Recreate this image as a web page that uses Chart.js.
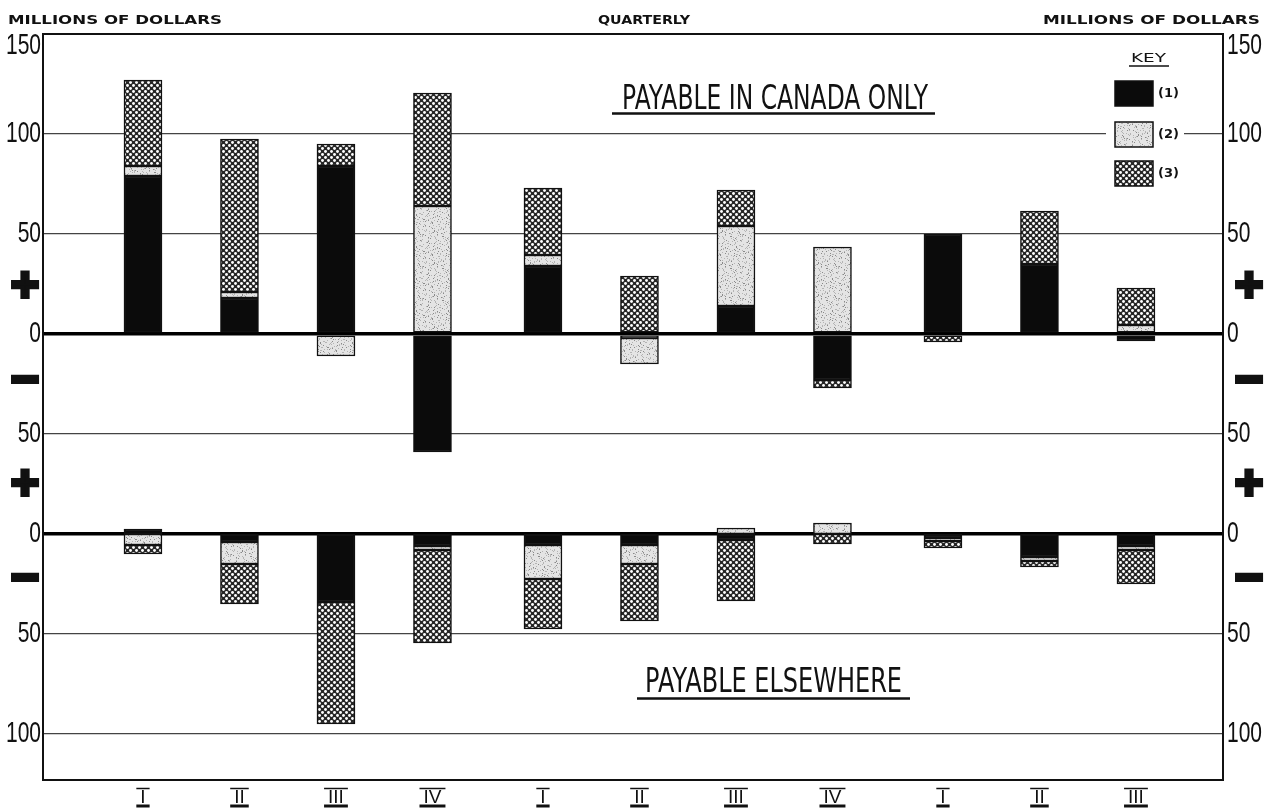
<!DOCTYPE html>
<html>
<head>
<meta charset="utf-8">
<style>
html,body{margin:0;padding:0;background:#fff;}
#wrap{width:1267px;height:808px;position:relative;}
</style>
<script src="https://cdn.jsdelivr.net/npm/chart.js@4.4.1/dist/chart.umd.min.js"></script>
</head>
<body>
<div id="wrap"><canvas id="c"></canvas></div>
<script>
// ---------------- DATA ----------------
const quarters = ['I','II','III','IV','I','II','III','IV','I','II','III'];
const seriesNames = ['(1)','(2)','(3)'];

// Payable in Canada only (millions of dollars)
const canada1 = [79, 18, 84, -59, 34, -2, 14, -23, 50, 35, -3.5];
const canada2 = [5, 3, -11, 64, 5.5, -13, 40, 43.5, 0, 0, 4.5];
const canada3 = [43, 76.5, 11, 56.5, 33.5, 29, 18, -4, -4, 26.5, 18.5];

// Payable elsewhere (millions of dollars)
const elsewhere1 = [2.5, -4, -34, -6, -5.5, -5.5, -3, 0, -2, -11.5, -6];
const elsewhere2 = [-5.5, -11, 0, -2, -17, -9.5, 3, 5.5, -1.5, -2, -2];
const elsewhere3 = [-4.5, -20, -61, -46.5, -25, -28.5, -30.5, -5, -3.5, -3, -17];

// Axis tick labels (two panels share one axis; lower panel is shifted by panelShift)
const panelShift = -100;
const yGridValues = [150, 100, 50, 0, -50, -100, -150, -200];
const yTickLabels = ['150', '100', '50', '0', '50', '0', '50', '100'];
const signValues = [23, -24, -76, -123];
const signLabels = ['+', '\u2212', '+', '\u2212'];

const headerLeft = 'MILLIONS OF DOLLARS';
const headerCenter = 'QUARTERLY';
const headerRight = 'MILLIONS OF DOLLARS';
const panelTitleTop = 'PAYABLE IN CANADA ONLY';
const panelTitleBottom = 'PAYABLE ELSEWHERE';
const keyTitle = 'KEY';

// ---------------- LAYOUT HELPERS ----------------
const yearGap = 0.145;
function xpos(i){ return i + yearGap * Math.floor(i / 4); }

// ---------------- PATTERNS ----------------
function makeStipple(){
  const c = document.createElement('canvas'); c.width = 32; c.height = 32;
  const g = c.getContext('2d');
  g.fillStyle = '#e4e4e4'; g.fillRect(0,0,32,32);
  for (let k = 0; k < 170; k++){
    const x = (k * 37 + (k * k) % 7) % 32;
    const y = (k * 71 + (k * k * 3) % 13) % 32;
    g.fillStyle = (k % 3 === 0) ? '#8a8a8a' : '#b4b4b4';
    g.fillRect(x, y, 1, 1);
  }
  return c;
}
function makeHatch(){
  const c = document.createElement('canvas'); c.width = 6; c.height = 6;
  const g = c.getContext('2d');
  g.fillStyle = '#262626'; g.fillRect(0,0,6,6);
  g.fillStyle = '#ffffff';
  [[1.5,1.5],[4.5,4.5]].forEach(p => { g.beginPath(); g.arc(p[0], p[1], 1.45, 0, Math.PI*2); g.fill(); });
  return c;
}
const tmpCtx = document.createElement('canvas').getContext('2d');
const fills = [
  '#0b0b0b',
  tmpCtx.createPattern(makeStipple(), 'repeat'),
  tmpCtx.createPattern(makeHatch(), 'repeat')
];

// ---------------- FLOATING STACKS ----------------
function buildStacks(seriesList, offset){
  const out = seriesList.map(() => []);
  quarters.forEach((q, i) => {
    let pos = offset, neg = offset;
    seriesList.forEach((s, k) => {
      const v = s[i];
      if (!v) return;
      if (v > 0){ out[k].push({x: xpos(i), y: [pos, pos + v]}); pos += v; }
      else { out[k].push({x: xpos(i), y: [neg, neg + v]}); neg += v; }
    });
  });
  return out;
}
const topStacks = buildStacks([canada1, canada2, canada3], 0);
const botStacks = buildStacks([elsewhere1, elsewhere2, elsewhere3], panelShift);

const datasets = [];
[topStacks, botStacks].forEach((stacks, p) => {
  stacks.forEach((data, k) => {
    datasets.push({
      label: seriesNames[k] + (p === 0 ? ' ' + panelTitleTop : ' ' + panelTitleBottom),
      data: data,
      backgroundColor: fills[k],
      borderColor: '#111',
      borderWidth: 1.5,
      borderSkipped: false,
      barThickness: 38,
      grouped: false,
      xAxisID: 'x',
      yAxisID: 'y'
    });
  });
});

// ---------------- DRAW HELPERS ----------------
function fitText(ctx, text, x, baseline, width){
  const w = ctx.measureText(text).width;
  ctx.save();
  ctx.translate(x, baseline);
  ctx.scale(width / w, 1);
  ctx.textAlign = 'left';
  ctx.textBaseline = 'alphabetic';
  ctx.fillText(text, 0, 0);
  ctx.restore();
}
function scaledText(ctx, text, x, y, align, sx){
  ctx.save();
  ctx.translate(x, y);
  ctx.scale(sx, 1);
  ctx.textAlign = align;
  ctx.fillText(text, 0, 0);
  ctx.restore();
}

const decor = {
  id: 'decor',
  beforeDatasetsDraw(chart){
    const ctx = chart.ctx;
    ctx.save();
    ctx.fillStyle = '#fff';
    ctx.fillRect(1106, 118, 78, 32);
    ctx.restore();
  },
  afterDraw(chart){
    const ctx = chart.ctx;
    const a = chart.chartArea;
    const ys = chart.scales.y;
    const xs = chart.scales.x;
    ctx.save();
    ctx.fillStyle = '#111';
    ctx.strokeStyle = '#111';

    // plot frame
    ctx.lineWidth = 2;
    ctx.strokeRect(a.left, a.top, a.right - a.left, a.bottom - a.top);

    // y tick labels, both sides
    ctx.font = '30px "Liberation Sans", Arial, sans-serif';
    ctx.textBaseline = 'middle';
    yGridValues.forEach((v, i) => {
      let py = ys.getPixelForValue(v);
      if (py < a.top + 12) py = a.top + 12;
      scaledText(ctx, yTickLabels[i], a.left - 2, py, 'right', 0.7);
      scaledText(ctx, yTickLabels[i], a.right + 4, py, 'left', 0.7);
    });

    // + / − signs
    ctx.font = 'bold 48px "Liberation Sans", Arial, sans-serif';
    ctx.textAlign = 'center';
    ctx.textBaseline = 'middle';
    ctx.lineWidth = 4;
    ctx.lineJoin = 'miter';
    signValues.forEach((v, i) => {
      const py = ys.getPixelForValue(v);
      [25, 1249].forEach(px => {
        ctx.fillText(signLabels[i], px, py);
        ctx.strokeText(signLabels[i], px, py);
      });
    });

    // headers
    ctx.font = 'bold 13px "DejaVu Sans", sans-serif';
    fitText(ctx, headerLeft, 8, 24, 214);
    fitText(ctx, headerCenter, 598, 24, 92);
    fitText(ctx, headerRight, 1043, 24, 217);

    // panel titles
    ctx.font = '33px "DejaVu Sans", sans-serif';
    fitText(ctx, panelTitleTop, 622, 109, 306);
    fitText(ctx, panelTitleBottom, 645, 692, 257);
    ctx.lineWidth = 2.5;
    ctx.beginPath();
    ctx.moveTo(612, 113.5); ctx.lineTo(935, 113.5);
    ctx.moveTo(637, 698.5); ctx.lineTo(910, 698.5);
    ctx.stroke();

    // key
    ctx.font = '13px "DejaVu Sans", sans-serif';
    fitText(ctx, keyTitle, 1131, 62, 35);
    ctx.lineWidth = 1.5;
    ctx.beginPath(); ctx.moveTo(1129, 66); ctx.lineTo(1169, 66); ctx.stroke();
    const boxTops = [81, 122, 161];
    ctx.font = 'bold 13px "DejaVu Sans", sans-serif';
    boxTops.forEach((t, k) => {
      ctx.fillStyle = fills[k];
      ctx.fillRect(1115, t, 38, 25);
      ctx.strokeStyle = '#111';
      ctx.lineWidth = 1.5;
      ctx.strokeRect(1115, t, 38, 25);
      ctx.fillStyle = '#111';
      ctx.textAlign = 'left';
      ctx.textBaseline = 'middle';
      ctx.fillText(seriesNames[k], 1158, t + 13);
    });

    // bars over/under the quarter numerals
    ctx.font = '19px "Liberation Sans", Arial, sans-serif';
    quarters.forEach((q, i) => {
      const cx = xs.getPixelForValue(xpos(i));
      const w = ctx.measureText(q).width + 8;
      ctx.lineWidth = 1.5;
      ctx.beginPath(); ctx.moveTo(cx - w/2, 788.5); ctx.lineTo(cx + w/2, 788.5); ctx.stroke();
      ctx.lineWidth = 3;
      ctx.beginPath(); ctx.moveTo(cx - w/2, 806); ctx.lineTo(cx + w/2, 806); ctx.stroke();
    });
    ctx.restore();
  }
};

// ---------------- CHART ----------------
new Chart(document.getElementById('c'), {
  type: 'bar',
  data: { datasets: datasets },
  options: {
    responsive: true,
    maintainAspectRatio: false,
    animation: false,
    layout: { padding: { top: 34, left: 0, right: 0, bottom: 0 } },
    plugins: { legend: { display: false }, tooltip: { enabled: false }, title: { display: false } },
    scales: {
      x: {
        type: 'linear',
        offset: false,
        min: -1.036,
        max: 11.192,
        grid: { display: false, drawTicks: false, offset: false },
        border: { display: false },
        afterBuildTicks: s => { s.ticks = quarters.map((q, i) => ({ value: xpos(i) })); },
        afterFit: s => { s.height = 28; },
        ticks: {
          autoSkip: false, maxRotation: 0, minRotation: 0, padding: 6,
          color: '#111',
          font: { family: '"Liberation Sans", Arial, sans-serif', size: 19 },
          callback: (v, i) => quarters[i]
        }
      },
      y: {
        position: 'left',
        min: -223,
        max: 150,
        border: { display: false },
        ticks: { display: false },
        afterBuildTicks: s => { s.ticks = yGridValues.map(v => ({ value: v })); },
        afterFit: s => { s.width = 43; },
        grid: {
          drawTicks: false,
          color: c => (c.tick && c.tick.value === 150) ? 'rgba(0,0,0,0)' :
                      (c.tick && (c.tick.value === 0 || c.tick.value === panelShift)) ? '#000' : '#444',
          lineWidth: c => (c.tick && (c.tick.value === 0 || c.tick.value === panelShift)) ? 3.5 : 1.3
        }
      },
      y2: {
        position: 'right',
        min: -223,
        max: 150,
        grid: { display: false, drawTicks: false },
        border: { display: false },
        ticks: { display: false },
        afterFit: s => { s.width = 44; }
      }
    }
  },
  plugins: [decor]
});
</script>
</body>
</html>
